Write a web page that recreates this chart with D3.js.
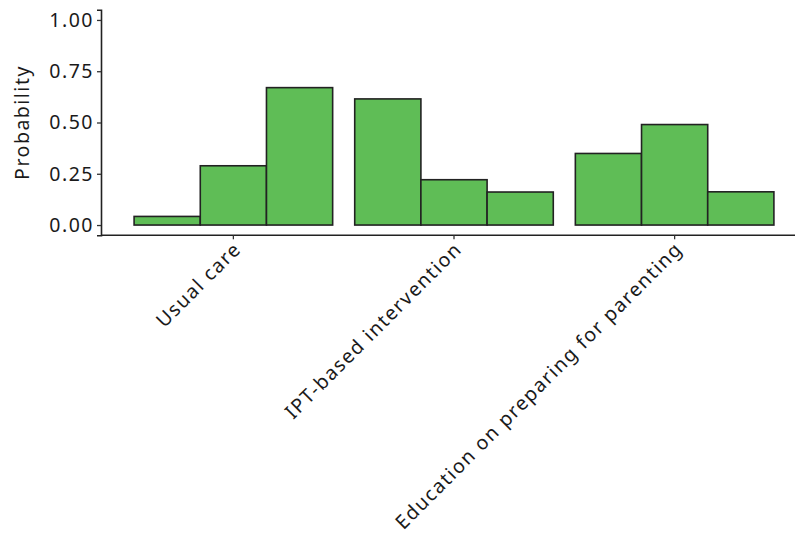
<!DOCTYPE html>
<html><head><meta charset="utf-8">
<script src="https://cdn.jsdelivr.net/npm/d3@7"></script>
<style>body{margin:0;background:#fff}svg{display:block}</style>
</head><body>
<svg id="c" width="795" height="540"></svg>
<script>
const categories = ["Usual care", "IPT-based intervention", "Education on preparing for parenting"];
const levels = ["1", "2", "3"];
const values = [
  [0.042, 0.289, 0.670],
  [0.615, 0.221, 0.161],
  [0.349, 0.490, 0.162]
];
const yTicks = [0, 0.25, 0.5, 0.75, 1.0];
const yTitle = "Probability";

(function () {
const svg = d3.select("#c");
const font = "'Noto Sans', 'Open Sans', sans-serif";
const fs = 19.5, ls = "1.5px";
const pL = 101, pR = 807, pT = 9.7, pB = 235.3;

const x = d3.scalePoint().domain(categories).range([pL, pR]).padding(0.6);
const y = d3.scaleLinear().domain([-0.05, 1.05]).range([pB, pT]);
const groupW = x.step() * 0.9;
const xi = d3.scaleBand().domain(levels).range([-groupW / 2, groupW / 2]);

const data = [];
categories.forEach((c, i) => levels.forEach((l, j) => data.push({c, l, v: values[i][j]})));

svg.append("g").selectAll("rect").data(data).join("rect")
  .attr("x", d => x(d.c) + xi(d.l))
  .attr("width", xi.bandwidth())
  .attr("y", d => y(d.v))
  .attr("height", d => y(0) - y(d.v))
  .attr("fill", "#5fbd56")
  .attr("stroke", "#222")
  .attr("stroke-width", 1.6);

// y axis
const ya = svg.append("g").attr("transform", `translate(${pL},0)`)
  .call(d3.axisLeft(y).tickValues(yTicks).tickFormat(d3.format(".2f")).tickSizeOuter(0).tickSize(4).tickPadding(3));
ya.select(".domain").attr("stroke", "#222").attr("stroke-width", 1.6);
ya.selectAll(".tick line").attr("stroke", "#333").attr("stroke-width", 1.3);
ya.selectAll(".tick text").attr("font-family", font).attr("font-size", fs)
  .attr("letter-spacing", ls).attr("fill", "#1a1a1a");

// x axis
const xa = svg.append("g").attr("transform", `translate(0,${pB})`);
xa.append("line").attr("x1", pL).attr("x2", 795).attr("stroke", "#222").attr("stroke-width", 1.6);
const xt = xa.selectAll("g.t").data(categories).join("g").attr("class", "t")
  .attr("transform", d => `translate(${x(d)},0)`);
xt.append("line").attr("y2", 4).attr("stroke", "#333").attr("stroke-width", 1.3);
xt.append("text").text(d => d)
  .attr("transform", "translate(9,15) rotate(-45)")
  .attr("text-anchor", "end")
  .attr("letter-spacing", ls)
  .attr("font-family", font).attr("font-size", fs).attr("fill", "#1a1a1a");

svg.append("text").text(yTitle)
  .attr("transform", `translate(29,${(pT + pB) / 2}) rotate(-90)`)
  .attr("text-anchor", "middle")
  .attr("letter-spacing", ls)
  .attr("font-family", font).attr("font-size", fs).attr("fill", "#1a1a1a");
})();
</script>
</body></html>
